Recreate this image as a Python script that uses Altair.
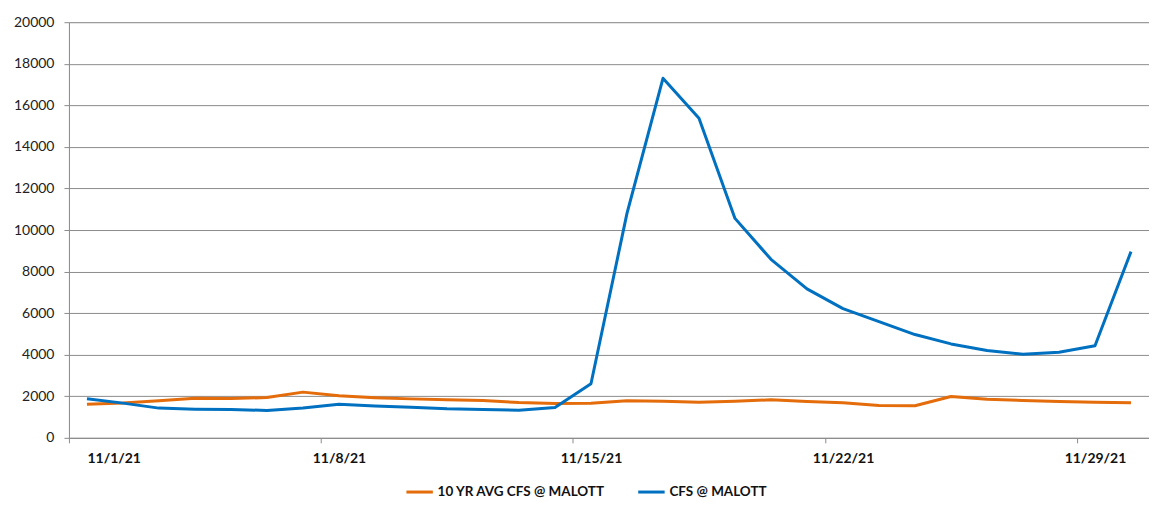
import altair as alt
import pandas as pd

days = list(range(1, 31))
avg_10yr = [1620, 1680, 1780, 1910, 1890, 1940, 2200, 2020, 1930, 1875,
            1830, 1800, 1700, 1650, 1670, 1780, 1765, 1715, 1765, 1827,
            1750, 1683, 1560, 1545, 1990, 1860, 1795, 1750, 1715, 1690]
cfs = [1880, 1670, 1430, 1380, 1360, 1320, 1440, 1620, 1530, 1475,
       1400, 1365, 1330, 1460, 2600, 10800, 17300, 15380, 10560, 8590,
       7170, 6220, 5590, 4970, 4520, 4200, 4025, 4120, 4430, 8960]
series_names = ["10 YR AVG CFS @ MALOTT", "CFS @ MALOTT"]
series_colors = ["#E46C0A", "#0070C0"]
tick_days = [1, 8, 15, 22, 29]

rows = []
for d, a, c in zip(days, avg_10yr, cfs):
    ts = "2021-11-%02dT12:00:00Z" % d
    rows.append({"date": ts, "value": a, "series": series_names[0]})
    rows.append({"date": ts, "value": c, "series": series_names[1]})
df = pd.DataFrame(rows)

font = "Lato"

chart = alt.Chart(df).mark_line(strokeWidth=3, strokeJoin="round").encode(
    x=alt.X(
        "date:T",
        scale=alt.Scale(
            type="utc",
            domain=[alt.DateTime(year=2021, month=11, date=1, utc=True),
                    alt.DateTime(year=2021, month=12, date=1, utc=True)],
            nice=False,
        ),
        axis=alt.Axis(
            title=None,
            values=[alt.DateTime(year=2021, month=11, date=d, utc=True) for d in tick_days],
            labelExpr="utcFormat(datum.value, '%-m/%-d/%y')",
            grid=False,
            domainColor="#8c8c8c",
            tickColor="#8c8c8c",
            tickSize=5,
            labelOffset=18,
            labelPadding=9,
            labelFont=font,
            labelFontSize=14,
            labelFontWeight="bold",
            labelColor="#111111",
        ),
    ),
    y=alt.Y(
        "value:Q",
        scale=alt.Scale(domain=[0, 20000], nice=False),
        axis=alt.Axis(
            title=None,
            values=list(range(0, 20001, 2000)),
            format="d",
            grid=True,
            gridColor="#8c8c8c",
            gridWidth=1,
            domainColor="#8c8c8c",
            tickColor="#8c8c8c",
            tickSize=5,
            labelPadding=10,
            labelFont=font,
            labelFontSize=14,
            labelColor="#222222",
        ),
    ),
    color=alt.Color(
        "series:N",
        scale=alt.Scale(domain=series_names, range=series_colors),
        legend=alt.Legend(
            title=None,
            orient="none",
            legendX=336,
            legendY=455,
            padding=0,
            direction="horizontal",
            symbolType="stroke",
            symbolSize=700,
            symbolStrokeWidth=3,
            labelFont=font,
            labelFontSize=13.5,
            labelFontWeight="bold",
            labelColor="#111111",
            labelLimit=400,
            labelOffset=3,
            columnPadding=26,
        ),
    ),
).properties(
    width=1081,
    height=416,
    autosize=alt.AutoSizeParams(type="none"),
    padding={"left": 61, "top": 14, "right": 0, "bottom": 62},
).configure_view(stroke=None).configure(background="white")

chart.save("out.html", embed_options={"renderer": "svg", "actions": False})
